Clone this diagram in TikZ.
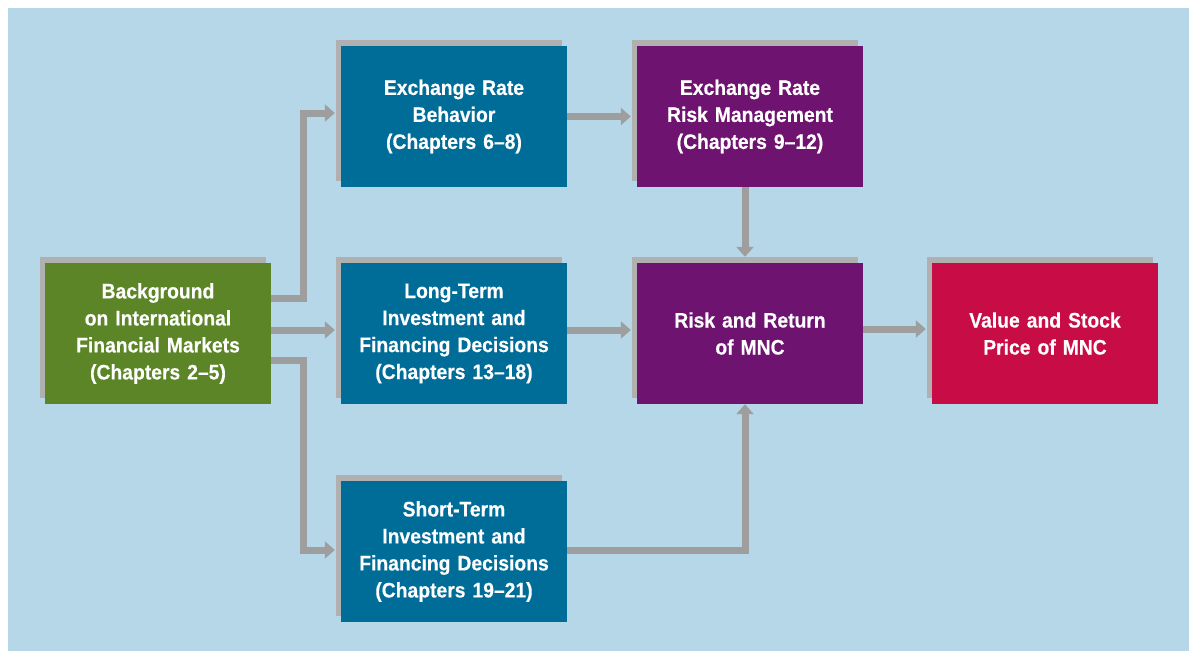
\documentclass[tikz,border=0pt]{standalone}
\usepackage{fontspec}
\setmainfont{Liberation Sans}
\newfontfamily\boxfont{Liberation Sans}[FakeStretch=0.92,FakeBold=0.4]
\usetikzlibrary{shadows,arrows.meta,calc}
\definecolor{bgblue}{RGB}{181,215,232}
\definecolor{cgreen}{RGB}{91,133,38}
\definecolor{cblue}{RGB}{0,108,152}
\definecolor{cpurple}{RGB}{110,19,111}
\definecolor{cred}{RGB}{199,12,70}
\definecolor{shadowgray}{RGB}{176,176,176}
\definecolor{arrowgray}{RGB}{158,158,158}
\tikzset{
  box/.style={inner sep=0pt, text width=226pt, minimum height=141pt, align=center,
    text=white, font=\boxfont\bfseries\fontsize{21}{27}\selectfont,
    general shadow={fill=shadowgray, shadow xshift=-5pt, shadow yshift=6pt}},
  conn/.style={draw=arrowgray, line width=7pt, line join=miter,
    -{Triangle[width=17pt,length=10pt]}}
}
\begin{document}
\begin{tikzpicture}[x=1pt,y=-1pt]
\useasboundingbox (0,0) rectangle (1189,651);
\fill[bgblue] (8,8) rectangle (1189,651);

\node[box, fill=cgreen] (green) at (158,333.5) {Background\\on International\\Financial Markets\\(Chapters 2–5)};
\node[box, fill=cblue] (blue1) at (454,116.5) {Exchange Rate\\Behavior\\(Chapters 6–8)};
\node[box, fill=cpurple] (purple1) at (750,116.5) {Exchange Rate\\Risk Management\\(Chapters 9–12)};
\node[box, fill=cblue] (blue2) at (454,333.5) {Long-Term\\Investment and\\Financing Decisions\\(Chapters 13–18)};
\node[box, fill=cpurple] (purple2) at (750,333.5) {Risk and Return\\of MNC};
\node[box, fill=cred] (red) at (1045,333.5) {Value and Stock\\Price of MNC};
\node[box, fill=cblue] (blue3) at (454,551.5) {Short-Term\\Investment and\\Financing Decisions\\(Chapters 19–21)};

% waypoints
\coordinate (g1) at ($(green.east)+(0,-35.5)$);
\coordinate (g2) at ($(green.east)+(0,-3.5)$);
\coordinate (g3) at ($(green.east)+(0,26.5)$);
\coordinate (k1) at ($(green.east)+(32,0)$);
\coordinate (b1in) at ($(blue1.west)+(-6,-3.5)$);
\coordinate (b2in) at ($(blue2.west)+(-6,-3.5)$);
\coordinate (b3in) at ($(blue3.west)+(-6,-1.5)$);
\coordinate (b1out) at ($(blue1.east)+(0,0)$);
\coordinate (p1in) at ($(purple1.west)+(-6,0)$);
\coordinate (b2out) at ($(blue2.east)+(0,-3.5)$);
\coordinate (p2in) at ($(purple2.west)+(-6,-3.5)$);
\coordinate (p1out) at ($(purple1.south)+(-5,0)$);
\coordinate (p2top) at ($(purple2.north)+(-5,-6)$);
\coordinate (p2out) at ($(purple2.east)+(0,-4.5)$);
\coordinate (rin) at ($(red.west)+(-6,-4.5)$);
\coordinate (b3out) at ($(blue3.east)+(0,-1.5)$);
\coordinate (p2bot) at ($(purple2.south)+(-5,0)$);

\draw[conn] (g1) -| (k1 |- b1in) -- (b1in);
\draw[conn] (g2) -- (b2in);
\draw[conn] (g3) -| (k1 |- b3in) -- (b3in);
\draw[conn] (b1out) -- (p1in);
\draw[conn] (p1out) -- (p2top);
\draw[conn] (b2out) -- (p2in);
\draw[conn] (p2out) -- (rin);
\draw[conn] (b3out) -| (p2bot);
\end{tikzpicture}
\end{document}
